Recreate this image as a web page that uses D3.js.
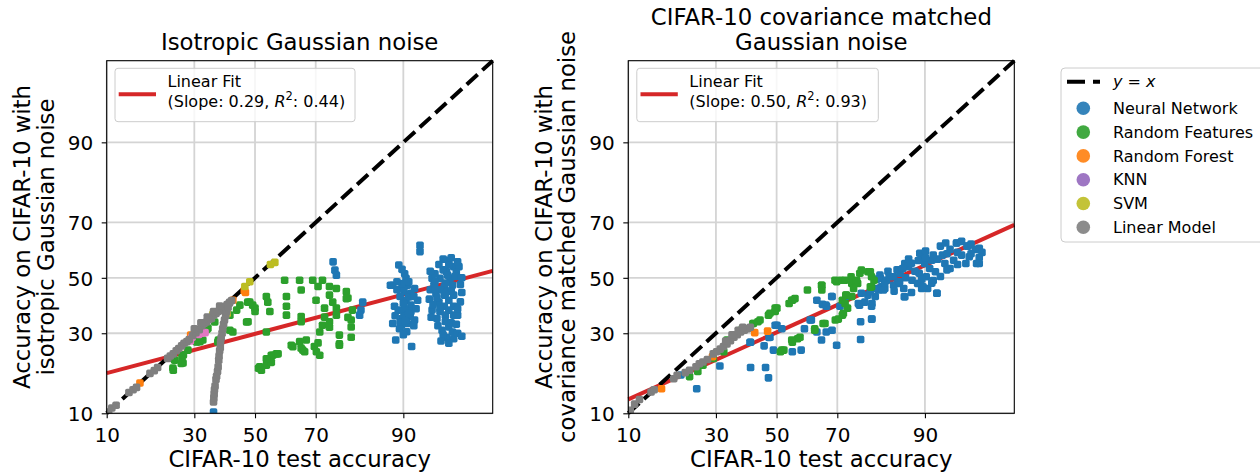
<!DOCTYPE html>
<html><head><meta charset="utf-8">
<script src="https://cdn.jsdelivr.net/npm/d3@7"></script>
<style>
body{margin:0;background:#fff;}
svg text{font-family:"DejaVu Sans",sans-serif;fill:#000;}
</style></head><body>
<svg id="c" width="1260" height="473"></svg>
<script>
// ---------------- DATA (accuracy in %) ----------------
const tickValues = [10, 30, 50, 70, 90];
const tickLabels = ["10", "30", "50", "70", "90"];
const axisDomain = [10, 98];
const classNames = ["Neural Network", "Random Features", "Random Forest", "KNN", "SVM", "Linear Model"];
const fitIso = [0.29, -0.530];   // slope, intercept (probit space)
const fitCov = [0.495, -0.516];
const fitLabels = ["(Slope: 0.29, ", ": 0.44)", "(Slope: 0.50, ", ": 0.93)"];

const isoNN = [[36.0,10.2],[75.0,56.0],[75.5,52.9],[75.9,51.0],[82.4,40.9],[82.0,38.0],[81.7,36.2],
[92.3,62.1],[92.3,59.8],[89.3,54.8],[87.9,47.2],[90.4,49.8],[90.6,47.2],[90.1,44.8],[91.1,44.2],[91.6,46.0],[90.4,41.6],[91.1,39.8],[92.0,41.6],[88.6,39.4],[90.1,36.2],[91.1,37.5],[91.6,34.5],[90.6,33.3],[88.3,33.3],[89.7,32.7],[89.4,31.5],[88.8,27.8],[91.2,25.8],[88.3,47.2],[90.0,46.0],[89.5,43.0],[90.8,42.8],[90.2,38.5],[89.8,35.0],[91.0,35.8],[90.5,30.5],
[89.0,45.5],[89.8,47.8],[90.8,48.5],[91.5,43.0],[90.0,40.5],[89.2,38.0],[90.8,36.8],[91.8,38.5],[89.5,33.8],[90.3,34.2],[88.7,36.0],[91.5,32.5],[90.0,29.5],[89.0,48.5],[90.2,51.5],[89.8,53.2],
[95.3,56.6],[95.7,54.2],[95.1,52.3],[93.7,49.8],[94.5,49.8],[95.4,49.8],[93.9,47.2],[94.9,46.6],[95.6,47.2],[94.1,44.2],[94.9,43.5],[95.7,43.5],[94.4,40.9],[95.3,41.6],[94.9,39.4],[95.7,39.4],[93.7,38.0],[95.0,36.2],[95.7,36.2],[94.7,31.0],[95.3,32.1],[95.6,30.4],[95.1,28.7],[95.7,28.2],[96.1,54.2],[96.0,36.2],[95.9,52.0],[94.6,45.5],[95.2,45.0],[94.2,42.5],
[93.5,45.5],[94.0,48.5],[95.0,48.0],[95.5,45.0],[94.5,37.5],[95.3,38.0],[94.2,35.0],[95.0,34.0],[95.5,33.5],[94.8,29.5],[96.0,30.0],[95.8,50.5],[94.8,53.0],[95.3,54.8],
[93.4,42.0],[93.8,40.0],[94.0,51.5],[94.4,55.0],[95.2,51.0],[96.2,47.5],[96.3,44.5],[96.2,41.0],[96.0,38.5],[93.6,35.5],[94.3,32.5],[95.9,33.0],[96.3,29.0],[94.6,27.5],[95.3,26.8],[93.5,52.5],[96.0,56.0],[94.0,46.0],[95.0,44.0],[94.5,38.5],[96.3,50.0],[95.5,57.5],[94.8,57.0]];

const isoRF = [[23.9,19.7],[26.7,21.0],[26.4,22.6],[28.1,24.7],[23.9,22.3],[30.8,27.2],[32.6,27.8],[34.2,31.7],[37.4,27.2],[36.4,33.8],[42.4,30.4],[41.4,36.2],[43.7,38.0],[44.8,39.8],[47.1,33.8],[47.5,40.9],[49.2,39.8],[50.0,38.7],
[24.4,21.8],[26.2,20.9],[24.0,19.1],[26.8,23.3],[30.6,27.3],[33.9,31.3],[31.7,27.3],[37.6,27.8],[41.4,31.0],
[48.2,40.9],[50.0,37.5],[47.6,33.9],[53.9,43.0],[54.4,40.9],[55.1,37.5],[53.9,30.4],[51.2,19.6],[53.9,20.4],[55.6,23.2],[57.3,23.6],
[60.1,49.1],[60.7,43.0],[60.7,39.4],[60.7,36.2],[65.0,49.1],[65.5,45.4],[65.5,35.7],[65.5,33.9],[62.8,25.7],[66.0,24.7],[67.1,27.8],
[69.1,49.1],[70.7,46.7],[72.0,49.1],[74.0,46.7],[74.0,43.5],[74.9,40.9],[75.9,46.0],[78.5,44.8],[78.9,42.4],[70.1,41.6],[72.6,38.7],[72.6,35.5],[72.0,32.7],[74.0,33.9],[75.9,38.7],[75.9,36.2],[74.0,32.0],[71.2,30.4],[76.7,29.4],[76.7,26.6],[79.7,34.5],[79.7,32.1],[80.0,38.0],
[62.3,26.2],[65.0,27.3],[65.5,25.3],[66.6,24.2],[69.6,25.8],[70.7,26.9],[70.2,24.2],[71.2,23.2],[56.1,23.2],[57.9,23.6],[55.6,21.2],[53.9,22.2],[51.6,20.0],[52.2,19.1],
[78.5,42.2],[78.9,35.4],[79.7,28.7],[76.7,26.2]];

const isoForest = [[16.0,16.0],[28.9,29.4],[42.4,41.6],[46.7,44.5],[46.3,45.2]];
const isoKNN = [[28.8,27.5],[29.3,28.7],[31.3,29.6],[33.3,30.2],[32.2,30.0]];
const isoSVM = [[46.5,46.7],[48.2,48.5],[55.3,55.0],[56.8,55.8],[35.8,36.5],[40.5,36.8]];
const isoLin = [[10.3,10.2],[10.8,10.9],[11.5,11.4],[13.8,13.9],[14.6,14.5],[15.3,15.0],[18.2,18.3],[19.2,19.0],[20.0,19.8],[22.5,22.3],[23.2,23.0],[24.0,23.6],[24.8,24.5],[25.5,25.2],[26.3,26.0],[27.0,26.8],[27.8,27.3],[28.5,28.0],[29.5,29.3],[30.5,30.2],[31.5,31.2],[32.3,32.5],[33.0,33.3],[33.8,33.8],[34.5,34.7],[35.3,35.0],[36.0,36.2],[36.8,36.8],[37.5,37.5],[38.3,38.0],[39.0,38.7],[39.8,39.3],[40.5,40.0],[41.3,40.8],[42.0,41.5],
[30.0,31.5],[32.0,33.5],[34.0,35.5],[36.0,37.5],[38.0,39.5],
[36.0,12.0],[36.1,12.8],[36.2,13.6],[36.3,14.5],[36.5,15.3],[36.8,16.8],[37.0,17.6],[37.3,18.8],[37.5,20.0],[37.7,21.8],[37.8,23.0],[38.0,24.5],[38.2,25.5],[38.3,27.2],[38.5,28.5],[38.8,30.0],[39.0,31.5],[39.3,33.0],[39.6,34.5],[40.0,36.0],[40.3,37.5],[40.8,39.0],[41.2,40.5]];

const covNN = [[20.4,17.9],[24.5,14.7],[31.2,20.2],[41.1,19.8],[46.2,19.8],[47.2,17.2],[41.1,27.1],[45.7,26.0],[48.9,24.7],[50.1,32.7],[47.4,28.6],[55.4,24.2],[58.4,24.7],[59.5,31.5],[61.8,34.5],[63.6,30.4],[65.1,27.8],[66.6,30.4],[68.4,31.0],[69.8,26.2],[63.6,41.6],[65.4,40.1],[66.7,39.4],[68.4,43.0],[76.6,33.9],[76.6,28.0],[79.4,34.8],[76.3,39.8],[77.7,40.9],[79.4,39.4],[80.3,43.0],[78.5,43.5],[81.1,45.4],[82.5,46.0],[81.5,49.8],[76.8,44.2],
[66.5,39.8],[68.3,43.0],[61.4,34.5],[49.5,32.7],[51.8,31.5],[40.9,27.1],[47.7,28.7],[72.7,43.0],[70.8,39.4],[76.0,40.4],
[81.4,51.0],[82.9,49.1],[81.7,46.6],[82.2,45.4],[84.4,50.4],[85.2,47.9],[85.7,51.7],[86.4,46.0],[86.6,42.9],[87.3,54.2],[87.9,49.1],[88.85,47.9],[89.1,51.7],[89.5,58.5],[89.97,55.4],[90.2,50.4],[90.4,46.0],[91.0,56.6],[91.5,52.3],[91.7,44.2],[92.15,61.8],[92.4,58.5],[92.7,55.4],[93.3,60.6],[93.7,56.6],[94.0,62.9],[94.5,58.5],[94.9,55.4],[95.0,61.8],[95.2,57.9],[95.7,60.6],[96.0,57.6],[95.8,55.4],[86.6,55.4],[89.5,46.0],[84.4,47.2],[79.1,44.8],[80.2,46.0],[79.5,40.4],[79.5,34.8],
[89.2,59.2],[92.8,62.9],[94.0,62.9],[95.1,61.8],[96.0,60.6],[96.0,55.4],[91.7,44.2],[86.5,42.9],[89.7,46.6],
[88.4,52.5],[90.7,53.5],[91.8,57.0],[92.95,59.0],[94.1,59.5],[93.3,53.5],[91.2,49.0],[86.75,50.0],[85.1,53.0],[88.96,56.5],[90.1,60.0],[94.5,63.5],[95.35,59.0],[96.0,61.0],[87.8,44.5],[83.2,52.5],[80.7,49.5],[85.6,48.5],
[82.5,48.0],[83.45,50.5],[84.5,45.0],[86.2,53.5],[87.8,55.5],[89.5,49.5],[91.0,48.0],[92.15,50.5],[92.95,53.0],[94.1,55.0],[95.35,62.5],[91.2,58.5],[90.1,57.5],[87.3,57.0],[96.2,59.5]];

const covRF = [[22.6,17.5],[24.8,18.8],[26.2,20.4],[29.2,22.3],[32.4,24.2],[33.4,27.8],[37.8,31.0],[41.9,33.3],[43.6,33.9],[47.2,36.2],[49.5,37.5],[50.1,38.7],[54.3,40.4],[55.4,41.6],[60.5,45.4],[65.1,47.2],[69.8,48.5],[71.0,49.1],[74.0,50.4],[76.8,52.9],[78.5,52.3],[79.4,50.4],[79.4,46.6],[75.8,47.9],[72.5,43.5],[71.5,41.6],[73.0,38.7],[71.5,36.2],[69.4,34.5],[65.6,33.3],[62.9,31.5],[57.2,28.2],[55.4,27.1],[52.5,24.7],[51.3,24.2],
[65.2,47.2],[69.3,49.1],[72.3,49.1],[74.2,47.9],[75.5,48.5],[72.7,43.5],[72.3,40.4],[71.8,36.9],[70.3,34.8],[66.2,33.3],[62.9,31.0],[58.0,28.7],[55.2,27.8],[51.8,24.7],[49.5,38.7],[47.7,36.9],[44.3,34.5],[42.0,33.3],[55.2,41.6],[56.3,42.2],[65.2,45.4],
[75.5,49.1],[76.4,51.7],[79.1,52.3],[80.0,49.1],[79.1,46.6],[74.7,46.0],[74.2,43.0]];

const covForest = [[16.0,14.7],[29.0,22.8],[42.5,30.2],[46.9,30.7]];
const covLin = [[10.3,10.5],[11.0,11.6],[11.8,12.5],[13.9,14.0],[14.5,14.5],[18.7,17.0],[19.5,17.8],[21.5,18.5],[22.6,19.1],[24.3,20.0],[25.2,20.8],[26.2,21.3],[27.5,22.0],[29.2,23.6],[30.2,24.2],[31.3,25.0],[32.3,25.8],[33.4,26.6],[34.5,27.6],[35.6,28.7],[36.7,29.5],[37.8,30.4],[39.0,31.0],[40.1,31.5],[41.0,32.0],[35.0,29.5],[37.0,31.0],[33.0,27.5],[38.5,32.0]];

// ---------------- STYLE ----------------
const plotColors = ["#1f77b4", "#2ca02c", "#ff7f0e", "#e377c2", "#bcbd22", "#7f7f7f"];
const legendColors = ["#1f77b4", "#2ca02c", "#ff7f0e", "#9467bd", "#bcbd22", "#7f7f7f"];

function probit(p){
  const a=[-3.969683028665376e+01,2.209460984245205e+02,-2.759285104469687e+02,1.383577518672690e+02,-3.066479806614716e+01,2.506628277459239e+00];
  const b=[-5.447609879822406e+01,1.615858368580409e+02,-1.556989798598866e+02,6.680131188771972e+01,-1.328068155288572e+01];
  const c=[-7.784894002430293e-03,-3.223964580411365e-01,-2.400758277161838e+00,-2.549732539343734e+00,4.374664141464968e+00,2.938163982698783e+00];
  const d=[7.784695709041462e-03,3.224671290700398e-01,2.445134137142996e+00,3.754408661907416e+00];
  const pl=0.02425, ph=1-pl; let q,r;
  if(p<pl){q=Math.sqrt(-2*Math.log(p));return (((((c[0]*q+c[1])*q+c[2])*q+c[3])*q+c[4])*q+c[5])/((((d[0]*q+d[1])*q+d[2])*q+d[3])*q+1);}
  if(p<=ph){q=p-0.5;r=q*q;return (((((a[0]*r+a[1])*r+a[2])*r+a[3])*r+a[4])*r+a[5])*q/(((((b[0]*r+b[1])*r+b[2])*r+b[3])*r+b[4])*r+1);}
  q=Math.sqrt(-2*Math.log(1-p));return -(((((c[0]*q+c[1])*q+c[2])*q+c[3])*q+c[4])*q+c[5])/((((d[0]*q+d[1])*q+d[2])*q+d[3])*q+1);
}
const pz = v => probit(v/100);

const svg = d3.select("#c");

const panels = [
  {l:106.7, r:492.7, t:60.7, b:413.3, series:[isoNN, isoRF, isoForest, isoKNN, isoSVM, isoLin], fit:fitIso,
   title:["Isotropic Gaussian noise"], titleY:[50], ylab:["Accuracy on CIFAR-10 with","isotropic Gaussian noise"], ylabX:[30,53.5],
   fitText:[fitLabels[0], fitLabels[1]], leg:{x:115, w:240}},
  {l:628.3, r:1014.3, t:60.7, b:413.3, series:[covNN, covRF, covForest, [], [], covLin], fit:fitCov,
   title:["CIFAR-10 covariance matched","Gaussian noise"], titleY:[24.5,50], ylab:["Accuracy on CIFAR-10 with","covariance matched Gaussian noise"], ylabX:[551.6,575.1],
   fitText:[fitLabels[2], fitLabels[3]], leg:{x:636.8, w:241.5}}
];

panels.forEach(P => {
  const x = d3.scaleLinear().domain(axisDomain.map(pz)).range([P.l, P.r]);
  const y = d3.scaleLinear().domain(axisDomain.map(pz)).range([P.b, P.t]);
  const g = svg.append("g");
  const cx = (P.l+P.r)/2, cy = (P.t+P.b)/2;

  // grid
  g.append("g").selectAll("line").data(tickValues).join("line")
    .attr("x1", d=>x(pz(d))).attr("x2", d=>x(pz(d))).attr("y1", P.t).attr("y2", P.b)
    .attr("stroke", "#d4d4d4").attr("stroke-width", 1.8);
  g.append("g").selectAll("line").data(tickValues).join("line")
    .attr("y1", d=>y(pz(d))).attr("y2", d=>y(pz(d))).attr("x1", P.l).attr("x2", P.r)
    .attr("stroke", "#d4d4d4").attr("stroke-width", 1.8);

  // fit line
  const fx = axisDomain.map(pz);
  g.append("line")
    .attr("x1", x(fx[0])).attr("y1", y(P.fit[0]*fx[0]+P.fit[1]))
    .attr("x2", x(fx[1])).attr("y2", y(P.fit[0]*fx[1]+P.fit[1]))
    .attr("stroke", "#d62728").attr("stroke-width", 4);

  // y = x
  g.append("line")
    .attr("x1", x(fx[0])).attr("y1", y(fx[0])).attr("x2", x(fx[1])).attr("y2", y(fx[1]))
    .attr("stroke", "#000").attr("stroke-width", 4).attr("stroke-dasharray", "14.8,6.4");

  // points
  const clip = "clip" + Math.round(P.l);
  svg.append("clipPath").attr("id", clip).append("rect")
    .attr("x", P.l).attr("y", P.t).attr("width", P.r-P.l).attr("height", P.b-P.t);
  const pts = g.append("g").attr("clip-path", `url(#${clip})`);
  P.series.forEach((s, i) => {
    pts.append("g").selectAll("rect").data(s).join("rect")
      .attr("x", d=>x(pz(d[0]))-3.8).attr("y", d=>y(pz(d[1]))-3.8)
      .attr("width", 7.6).attr("height", 7.6).attr("rx", 1.8)
      .attr("fill", plotColors[i]);
  });

  // spines
  g.append("rect").attr("x", P.l).attr("y", P.t).attr("width", P.r-P.l).attr("height", P.b-P.t)
    .attr("fill", "none").attr("stroke", "#000").attr("stroke-width", 1.1);

  // axes
  const xa = g.append("g").attr("transform", `translate(0,${P.b})`)
    .call(d3.axisBottom(x).tickValues(tickValues.map(pz)).tickFormat((d,i)=>tickLabels[i]).tickSize(5).tickPadding(4));
  const ya = g.append("g").attr("transform", `translate(${P.l},0)`)
    .call(d3.axisLeft(y).tickValues(tickValues.map(pz)).tickFormat((d,i)=>tickLabels[i]).tickSize(5).tickPadding(8.5));
  [xa, ya].forEach(a => {
    a.select(".domain").remove();
    a.selectAll("line").attr("stroke", "#000").attr("stroke-width", 1.1);
    a.selectAll("text").attr("font-size", 20).attr("font-family", "DejaVu Sans").attr("fill", "#000");
  });
  xa.selectAll("text").attr("dy", null).attr("y", 0).attr("transform", "translate(0,28.3)");
  ya.selectAll("text").attr("dy", "0.36em");

  // titles
  P.title.forEach((t, i) => g.append("text").attr("x", cx).attr("y", P.titleY[i])
    .attr("text-anchor", "middle").attr("font-size", 22.8).text(t));
  g.append("text").attr("x", cx).attr("y", 467).attr("text-anchor", "middle")
    .attr("font-size", 22.8).text("CIFAR-10 test accuracy");
  P.ylab.forEach((t, i) => g.append("text")
    .attr("transform", `translate(${P.ylabX[i]},${cy}) rotate(-90)`)
    .attr("text-anchor", "middle").attr("font-size", 22.8).text(t));

  // in-axes legend
  const lg = g.append("g");
  lg.append("rect").attr("x", P.leg.x).attr("y", 68.3).attr("width", P.leg.w).attr("height", 53.4)
    .attr("rx", 3).attr("fill", "#fff").attr("fill-opacity", 0.8).attr("stroke", "#cccccc").attr("stroke-width", 1);
  lg.append("line").attr("x1", P.leg.x+3.7).attr("x2", P.leg.x+41).attr("y1", 94.3).attr("y2", 94.3)
    .attr("stroke", "#d62728").attr("stroke-width", 4);
  lg.append("text").attr("x", P.leg.x+52.5).attr("y", 87.3).attr("font-size", 16).text("Linear Fit");
  const t2 = lg.append("text").attr("x", P.leg.x+52.5).attr("y", 106.5).attr("font-size", 16);
  t2.append("tspan").text(P.fitText[0]);
  t2.append("tspan").attr("font-style", "italic").text("R");
  t2.append("tspan").attr("font-size", 11.5).attr("dy", -7).text("2");
  t2.append("tspan").attr("dy", 7).text(P.fitText[1]);
});

// figure legend
const FL = svg.append("g");
FL.append("rect").attr("x", 1061).attr("y", 68).attr("width", 215).attr("height", 174).attr("rx", 4)
  .attr("fill", "#fff").attr("stroke", "#cccccc").attr("stroke-width", 1);
FL.append("line").attr("x1", 1067).attr("x2", 1100).attr("y1", 81.7).attr("y2", 81.7)
  .attr("stroke", "#000").attr("stroke-width", 4).attr("stroke-dasharray", "18,8");
const yx = FL.append("text").attr("x", 1113).attr("y", 81.7).attr("dy", "0.36em").attr("font-size", 16);
yx.append("tspan").attr("font-style", "italic").text("y");
yx.append("tspan").text(" = ");
yx.append("tspan").attr("font-style", "italic").text("x");
const legY = d3.scaleLinear().domain([0, 5]).range([108.3, 227.3]);
classNames.forEach((n, i) => {
  FL.append("circle").attr("cx", 1083.3).attr("cy", legY(i)).attr("r", 6.8)
    .attr("fill", legendColors[i]).attr("fill-opacity", 0.9);
  FL.append("text").attr("x", 1113).attr("y", legY(i)).attr("dy", "0.36em").attr("font-size", 16).text(n);
});
</script>
</body></html>
